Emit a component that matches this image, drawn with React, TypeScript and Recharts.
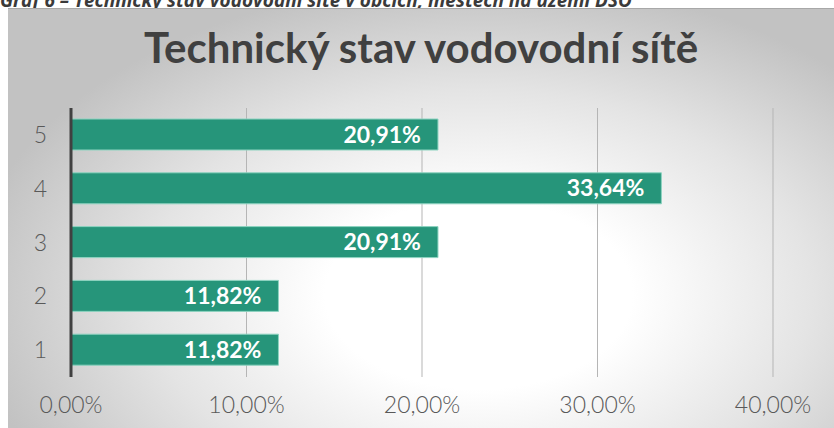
import React from "react";
import { Bar, BarChart, CartesianGrid, LabelList, XAxis, YAxis } from "recharts";

const categories = ["1", "2", "3", "4", "5"];
const shares = [11.82, 11.82, 20.91, 33.64, 20.91];
const xTicks = [0, 10, 20, 30, 40];

const data = categories.map((c, i) => ({ stav: c, podil: shares[i] }));

const pct = (v: number) => v.toFixed(2).replace(".", ",") + "%";

const FONT = "Lato, 'Open Sans', sans-serif";

export default function App() {
  return (
    <div
      style={{
        position: "absolute",
        left: 0,
        top: 0,
        width: 834,
        height: 428,
        overflow: "hidden",
        background: "#fff",
        fontFamily: FONT,
      }}
    >
      <div
        style={{
          position: "absolute",
          left: 0,
          top: -13,
          whiteSpace: "nowrap",
          fontSize: 19,
          fontWeight: 700,
          fontStyle: "italic",
          color: "#3a3a3a",
          fontFamily: "'Open Sans', sans-serif",
        }}
      >
        Graf 6 – Technický stav vodovodní sítě v obcích, městech na území DSO
      </div>
      <div
        style={{
          position: "absolute",
          left: 8,
          top: 8,
          width: 826,
          height: 420,
          borderTop: "1px solid #a8a8a8",
          background:
            "radial-gradient(ellipse 62% 75% at 57% 68%, #ffffff 0%, #ffffff 30%, #e4e4e4 65%, #c2c2c2 100%)",
        }}
      >
        <div
          style={{
            position: "absolute",
            left: 0,
            top: 17,
            width: 826,
            textAlign: "center",
            fontSize: 42,
            lineHeight: 1,
            fontWeight: 700,
            color: "#404040",
          }}
        >
          Technický stav vodovodní sítě
        </div>
        <BarChart
          width={826}
          height={420}
          data={data}
          layout="vertical"
          margin={{ top: 99, right: 61, bottom: 20, left: 0 }}
          barSize={31}
        >
          <CartesianGrid horizontal={false} stroke="#b5b5b5" strokeWidth={1} />
          <XAxis
            type="number"
            domain={[0, 40]}
            ticks={xTicks}
            tickFormatter={pct}
            axisLine={false}
            tickLine={false}
            height={32}
            tickMargin={14}
            tick={{ fill: "#595959", fontSize: 23, fontWeight: 300, fontFamily: FONT }}
          />
          <YAxis
            type="category"
            dataKey="stav"
            reversed
            width={63}
            axisLine={{ stroke: "#404040", strokeWidth: 3 }}
            tickLine={false}
            tickMargin={18}
            tick={{ fill: "#595959", fontSize: 23, fontWeight: 300, fontFamily: FONT }}
          />
          <Bar
            dataKey="podil"
            fill="#26957a"
            stroke="#8dd3c0"
            strokeWidth={1}
            isAnimationActive={false}
          >
            <LabelList
              dataKey="podil"
              position="insideRight"
              offset={17}
              formatter={(v: any) => pct(Number(v))}
              style={{ fill: "#ffffff", fontSize: 23, fontWeight: 700, fontFamily: FONT }}
            />
          </Bar>
        </BarChart>
      </div>
    </div>
  );
}
